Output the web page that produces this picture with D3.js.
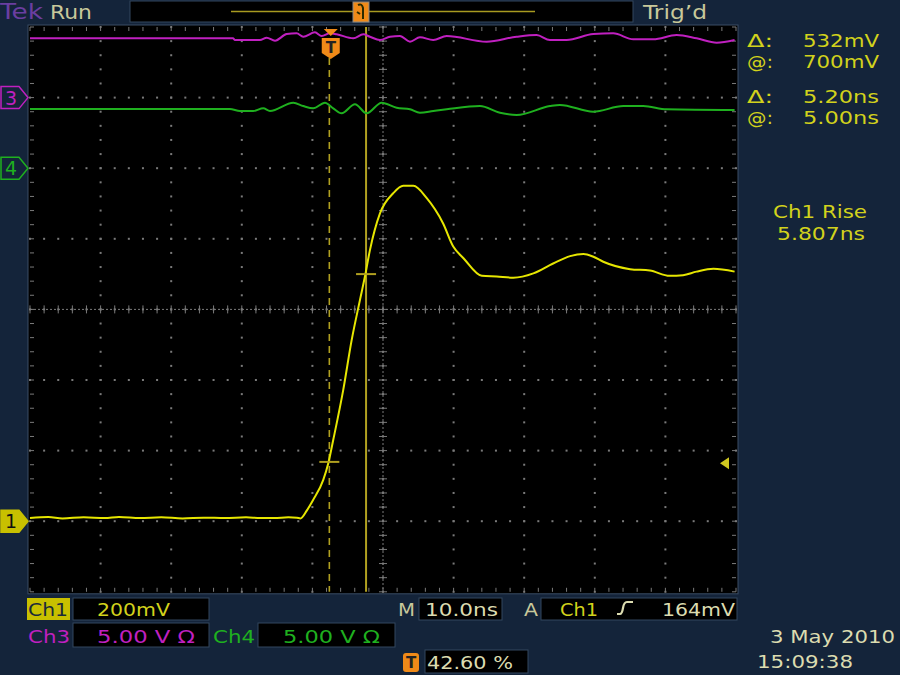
<!DOCTYPE html>
<html>
<head>
<meta charset="utf-8">
<script src="https://cdn.jsdelivr.net/npm/d3@7"></script>
<style>
  html, body { margin: 0; padding: 0; background: #14243a; }
  svg { display: block; font-family: "DejaVu Sans", Verdana, sans-serif; }
</style>
</head>
<body>
<svg id="scope" width="900" height="675"></svg>
<script>
// Ch1 trace: time (ns from trigger), volts (mV)
const ch1Time = [-42.6, -40, -38, -35, -32, -30, -27, -24, -21, -18, -15, -12, -10, -8, -6, -4.8, -4.3, -3.4, -2.5, -1.06, -0.35, 0.35, 1.77, 2.96, 4.14, 4.84, 5.55, 6.97, 8.85, 10.27, 11.7, 13.6, 15.9, 17.35, 18.8, 21.4, 23.5, 25.85, 28.7, 31.5, 33.9, 35.8, 37.2, 38.6, 42.4, 45.2, 48.0, 49.9, 51.8, 54.2, 57.2];
const ch1Volt = [9, 12, 8, 11, 9, 12, 9, 11, 8, 10, 9, 11, 9, 9, 11, 10, 8, 30, 60, 117, 164, 230, 372, 513, 627, 693, 768, 872, 929, 950, 950, 915, 844, 778, 745, 695, 693, 690, 702, 730, 751, 757, 749, 735, 714, 710, 695, 697, 707, 715, 707];

// Ch3 trace (V)
const ch3Time = [-42.6, -13.85, -13.57, -10.03, -9.08, -7.9, -6.25, -4.83, -3.9, -2.24, -1.29, -0.11, 0.84, 3.19, 4.6, 5.55, 6.97, 8.39, 9.8, 11.22, 12.63, 14.52, 16.42, 22.08, 26.33, 29.16, 31.05, 33.41, 37.18, 40.01, 42.85, 45.68, 48.99, 51.83, 54.66, 57.2];
const ch3Volt = [4.20, 4.20, 4.08, 4.08, 4.24, 4.03, 4.50, 4.55, 4.31, 4.62, 4.36, 4.55, 4.48, 4.20, 4.48, 4.31, 4.08, 4.31, 4.36, 3.96, 4.27, 4.08, 4.36, 3.96, 4.31, 4.43, 4.08, 4.08, 4.50, 4.55, 4.13, 4.13, 4.43, 4.20, 3.89, 4.08];

// Ch4 trace (V)
const ch4Time = [-42.6, -14.28, -12.86, -10.98, -9.56, -8.61, -5.31, -3.9, -2.48, -0.82, 0.35, 1.54, 3.43, 5.08, 7.21, 9.33, 11.22, 12.63, 14.52, 16.42, 21.13, 23.97, 26.33, 31.05, 32.46, 37.18, 41.43, 44.26, 47.58, 57.2];
const ch4Volt = [4.19, 4.19, 4.05, 4.05, 4.24, 4.05, 4.64, 4.40, 4.24, 4.64, 4.24, 3.89, 4.53, 3.89, 4.64, 4.28, 4.17, 3.93, 4.05, 4.17, 4.40, 3.93, 3.77, 4.40, 4.48, 4.00, 4.40, 4.40, 4.17, 4.12];

// cursors (ns) and trigger
const cursorTimes = [-0.2, 5.0];
const cursorLevels = [168, 700];
const triggerLevel = 164;

// readouts
const readoutLabels = ["Δ:", "@:", "Δ:", "@:"];
const readoutValues = ["532mV", "700mV", "5.20ns", "5.00ns"];
const measureLines = ["Ch1 Rise", "5.807ns"];

const svg = d3.select("#scope");

const L = 30, R = 736, T = 27, B = 591.8;
const divX = (R - L) / 10, divY = (B - T) / 8;

const x = d3.scaleLinear().domain([-42.6, 57.4]).range([L, R]);
const y1 = d3.scaleLinear().domain([-200, 1400]).range([B, T]);
const y3 = d3.scaleLinear().domain([-35, 5]).range([B, T]);
const y4 = d3.scaleLinear().domain([-30, 10]).range([B, T]);

// screen background
svg.append("rect").attr("x", 0).attr("y", 0).attr("width", 900).attr("height", 675).attr("fill", "#14243a");
svg.append("rect").attr("x", L - 2).attr("y", T - 2).attr("width", R - L + 4).attr("height", B - T + 4)
  .attr("fill", "#000").attr("stroke", "#3a4c64").attr("stroke-width", 1);

// graticule
const grat = svg.append("g").attr("fill", "#7a7a7a");
const minorX = d3.range(0, 51).map(i => L + i * divX / 5);
const minorY = d3.range(0, 41).map(i => T + i * divY / 5);
d3.range(1, 8).forEach(j => {
  const yy = T + j * divY;
  grat.selectAll(null).data(minorX).enter().append("rect")
    .attr("x", d => d - 1).attr("y", yy - 1).attr("width", 2).attr("height", 2);
});
d3.range(1, 10).forEach(i => {
  const xx = L + i * divX;
  grat.selectAll(null).data(minorY).enter().append("rect")
    .attr("x", xx - 1).attr("y", d => d - 1).attr("width", 2).attr("height", 2);
});
// center crosshair ticks
const cx = L + 5 * divX, cy = T + 4 * divY;
const tk = svg.append("g").attr("stroke", "#7a7a7a").attr("stroke-width", 1);
minorX.forEach(d => tk.append("line").attr("x1", d).attr("x2", d).attr("y1", cy - 4).attr("y2", cy + 4));
minorY.forEach(d => tk.append("line").attr("x1", cx - 4).attr("x2", cx + 4).attr("y1", d).attr("y2", d));
tk.append("line").attr("x1", L).attr("x2", R).attr("y1", cy).attr("y2", cy).attr("stroke-dasharray", "2,2");
tk.append("line").attr("x1", cx).attr("x2", cx).attr("y1", T).attr("y2", B).attr("stroke-dasharray", "2,2");
// edge ticks
minorX.forEach(d => {
  tk.append("line").attr("x1", d).attr("x2", d).attr("y1", T).attr("y2", T + 4);
  tk.append("line").attr("x1", d).attr("x2", d).attr("y1", B - 4).attr("y2", B);
});
minorY.forEach(d => {
  tk.append("line").attr("x1", L).attr("x2", L + 4).attr("y1", d).attr("y2", d);
  tk.append("line").attr("x1", R - 4).attr("x2", R).attr("y1", d).attr("y2", d);
});

// cursors
const cursorColor = "#b0a020";
svg.append("line").attr("x1", x(cursorTimes[0])).attr("x2", x(cursorTimes[0]))
  .attr("y1", 58).attr("y2", B).attr("stroke", cursorColor).attr("stroke-width", 1.6)
  .attr("stroke-dasharray", "7,5");
svg.append("line").attr("x1", x(cursorTimes[1])).attr("x2", x(cursorTimes[1]))
  .attr("y1", T).attr("y2", B).attr("stroke", cursorColor).attr("stroke-width", 2);

// traces
const line = (ys) => d3.line().x(d => x(d[0])).y(d => ys(d[1])).curve(d3.curveMonotoneX);
svg.append("path").datum(d3.zip(ch3Time, ch3Volt)).attr("d", line(y3))
  .attr("fill", "none").attr("stroke", "#c020c0").attr("stroke-width", 2);
svg.append("path").datum(d3.zip(ch4Time, ch4Volt)).attr("d", line(y4))
  .attr("fill", "none").attr("stroke", "#1fb01f").attr("stroke-width", 2);
svg.append("path").datum(d3.zip(ch1Time, ch1Volt)).attr("d", line(y1))
  .attr("fill", "none").attr("stroke", "#e6e600").attr("stroke-width", 2);

// cursor crossing marks
cursorTimes.forEach((t, i) => {
  svg.append("line").attr("x1", x(t) - 10).attr("x2", x(t) + 10)
    .attr("y1", y1(cursorLevels[i])).attr("y2", y1(cursorLevels[i]))
    .attr("stroke", cursorColor).attr("stroke-width", 2);
});

// trigger position marker
const tx = x(0);
svg.append("path").attr("d", `M${tx - 7},29 L${tx + 7},29 L${tx},36 Z`).attr("fill", "#f08a18");
svg.append("path").attr("d", `M${tx - 9},38 L${tx + 9},38 L${tx + 9},53 L${tx},59 L${tx - 9},53 Z`).attr("fill", "#f08a18");
svg.append("text").attr("x", tx).attr("y", 53).attr("text-anchor", "middle").attr("font-size", 15)
  .attr("font-weight", "bold").attr("fill", "#222").text("T");

// trigger level arrow (right)
const ty = y1(triggerLevel);
svg.append("path").attr("d", `M${R - 16},${ty} L${R - 7},${ty - 6} L${R - 7},${ty + 6} Z`).attr("fill", "#d0c820");

// channel markers (left)
function chMarker(yy, label, fill, stroke, textColor) {
  svg.append("path").attr("d", `M1,${yy - 11} L19,${yy - 11} L28,${yy} L19,${yy + 11} L1,${yy + 11} Z`)
    .attr("fill", fill).attr("stroke", stroke).attr("stroke-width", 1.5);
  svg.append("text").attr("x", 11).attr("y", yy + 7).attr("text-anchor", "middle").attr("font-size", 19)
    .attr("fill", textColor).text(label);
}
chMarker(y3(0), "3", "#14243a", "#c020c0", "#c020c0");
chMarker(y4(0), "4", "#14243a", "#1fb01f", "#1fb01f");
chMarker(y1(0), "1", "#c8c000", "#c8c000", "#111");

// text helper: x0 = left edge, w = width as seen on the screen
function label(x0, y0, s, color, size, w) {
  const t = svg.append("text").attr("x", x0).attr("y", y0).attr("font-size", size)
    .attr("fill", color).text(s);
  if (w) t.attr("textLength", w).attr("lengthAdjust", "spacingAndGlyphs");
  return t;
}

// top bar
label(0, 19, "Tek", "#6a3ea0", 21, 43);
label(50, 19, "Run", "#c8c89a", 19, 42);
svg.append("rect").attr("x", 130).attr("y", 1).attr("width", 503).attr("height", 21)
  .attr("fill", "#000").attr("stroke", "#33475e");
svg.append("line").attr("x1", 231).attr("x2", 535).attr("y1", 11.5).attr("y2", 11.5)
  .attr("stroke", "#a89a20").attr("stroke-width", 1.5);
svg.append("rect").attr("x", 353).attr("y", 2).attr("width", 16).attr("height", 20)
  .attr("fill", "#f08a18").attr("stroke", "#888");
svg.append("path").attr("d", "M358,5 Q362,3 363,8 L363,19 M357,12 L360,14")
  .attr("fill", "none").attr("stroke", "#2a2a00").attr("stroke-width", 2);
label(643, 19, "Trig’d", "#c8c89a", 19, 64);

// readouts (right)
const readY = [47, 68, 103, 124];
const readColor = "#d2d21c";
readoutLabels.forEach((lab, i) => {
  label(747, readY[i], lab, readColor, 17, 26);
  label(803, readY[i], readoutValues[i], readColor, 17, 76);
});
label(773, 218, measureLines[0], readColor, 17, 94);
label(777, 240, measureLines[1], readColor, 17, 88);

// bottom status
function box(x0, y0, w, h) {
  svg.append("rect").attr("x", x0).attr("y", y0).attr("width", w).attr("height", h)
    .attr("fill", "#000").attr("stroke", "#33475e");
}
const fs = 18;
svg.append("rect").attr("x", 27).attr("y", 598).attr("width", 43).attr("height", 22).attr("fill", "#c8c000");
label(28, 616, "Ch1", "#1a2a3a", fs, 40);
box(73, 598, 136, 22); label(97, 616, "200mV", "#d2d21c", fs, 73);
label(28, 643, "Ch3", "#c020c0", fs, 42);
box(73, 623, 136, 24); label(97, 643, "5.00 V Ω", "#c020c0", fs, 98);
label(213, 643, "Ch4", "#1fb01f", fs, 42);
box(258, 623, 137, 24); label(283, 643, "5.00 V Ω", "#1fb01f", fs, 97);
label(398, 616, "M", "#c8c89a", fs, 17);
box(419, 598, 83, 22); label(425, 616, "10.0ns", "#dcdcb0", fs, 73);
label(524, 616, "A", "#c8c89a", fs, 14);
box(541, 598, 196, 22); label(560, 616, "Ch1", "#d2d21c", fs, 38);
svg.append("path").attr("d", "M617,614 L620,614 Q622,614 623,608 Q624,602 627,602 L633,602")
  .attr("fill", "none").attr("stroke", "#dcdcb0").attr("stroke-width", 2.2);
label(662, 616, "164mV", "#dcdcb0", fs, 73);
svg.append("rect").attr("x", 403).attr("y", 653).attr("width", 16).attr("height", 19).attr("rx", 3).attr("fill", "#f08a18");
svg.append("text").attr("x", 411).attr("y", 668).attr("text-anchor", "middle").attr("font-size", 15)
  .attr("font-weight", "bold").attr("fill", "#222").text("T");
box(425, 650, 103, 23); label(427, 669, "42.60 %", "#dcdcb0", fs, 86);
label(770, 643, "3 May 2010", "#dcdcb0", fs, 125);
label(757, 668, "15:09:38", "#dcdcb0", fs, 96);
</script>
</body>
</html>
